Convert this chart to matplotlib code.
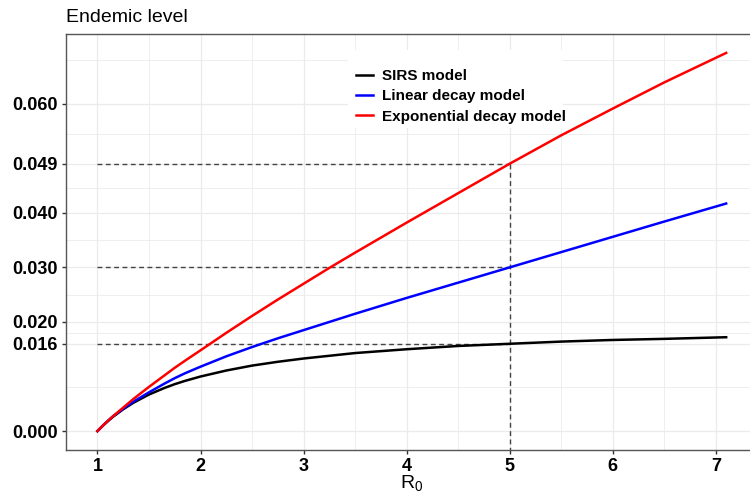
#!/usr/bin/env python3

import matplotlib
matplotlib.use("Agg")
import matplotlib.pyplot as plt
from matplotlib.patches import Rectangle

plt.rcParams['font.family'] = ['Liberation Sans', 'DejaVu Sans']
plt.rcParams['mathtext.fontset'] = 'custom'
plt.rcParams['mathtext.rm'] = 'Liberation Sans'

# values
r0 = [1, 1.05, 1.1, 1.15, 1.2, 1.25, 1.35, 1.5, 1.65, 1.75, 1.85, 2, 2.25,
      2.5, 2.75, 3, 3.25, 3.5, 4, 4.5, 5, 5.5, 6, 6.5, 7.1]
sirs = [0, 0.00095, 0.0018, 0.0026, 0.0033, 0.0040, 0.0052, 0.0067, 0.0079,
        0.0086, 0.0092, 0.0100, 0.0111, 0.0120, 0.0127, 0.0133, 0.0138,
        0.0143, 0.0150, 0.0156, 0.0160, 0.0164, 0.0167, 0.0169, 0.0172]
linear = [0, 0.00095, 0.00185, 0.0027, 0.0034, 0.0041, 0.0054, 0.0071, 0.0087,
          0.0097, 0.0106, 0.0118, 0.0137, 0.0154, 0.0170, 0.0185, 0.0200,
          0.0215, 0.0244, 0.0272, 0.0300, 0.0328, 0.0356, 0.0384, 0.0417]
expo = [0, 0.00095, 0.00185, 0.0027, 0.0035, 0.0043, 0.0059, 0.0081, 0.0102,
        0.0116, 0.0129, 0.0148, 0.0180, 0.0211, 0.0241, 0.0270, 0.0299,
        0.0327, 0.0382, 0.0436, 0.0490, 0.0542, 0.0591, 0.0639, 0.0693]

r0_mark = 5
levels = [0.016, 0.030, 0.049]

y_ticks = [0, 0.016, 0.02, 0.03, 0.04, 0.049, 0.06]
y_labels = ["0.000", "0.016", "0.020", "0.030", "0.040", "0.049", "0.060"]
y_minor = [0.008, 0.018, 0.025, 0.035, 0.0445, 0.0545, 0.068]
x_ticks = [1, 2, 3, 4, 5, 6, 7]
x_minor = [1.5, 2.5, 3.5, 4.5, 5.5, 6.5]


def make_plot():
    fig = plt.figure(figsize=(7.5, 5), dpi=100)
    W, H = 750., 500.
    left, right, top, bottom = 66, 757.6, 34, 450
    ax = fig.add_axes([left / W, 1 - bottom / H, (right - left) / W, (bottom - top) / H])

    xspan = max(r0) - min(r0)
    yspan = max(expo) - 0
    ax.set_xlim(min(r0) - 0.05 * xspan, max(r0) + 0.05 * xspan)
    ax.set_ylim(-0.05 * yspan, max(expo) + 0.05 * yspan)

    # dashed guides
    for lv in levels:
        ax.plot([min(r0), r0_mark], [lv, lv], color='#444444', lw=1.0,
                dashes=(3.5, 2.5), zorder=2)
    ax.plot([r0_mark, r0_mark], [max(levels), -1], color='#444444', lw=1.0,
            dashes=(3.5, 2.5), zorder=2)

    ax.plot(r0, sirs, color='black', lw=1.8, label='SIRS model', zorder=3)
    ax.plot(r0, linear, color='#0000FF', lw=1.8, label='Linear decay model', zorder=3)
    ax.plot(r0, expo, color='#FF0000', lw=1.8, label='Exponential decay model', zorder=3)

    ax.set_yticks(y_ticks)
    ax.set_yticklabels(y_labels)
    ax.set_yticks(y_minor, minor=True)
    ax.set_xticks(x_ticks)
    ax.set_xticks(x_minor, minor=True)
    ax.grid(True, which='major', color='#EBEBEB', lw=0.9, zorder=0)
    ax.grid(True, which='minor', color='#EBEBEB', lw=0.6, zorder=0)
    ax.set_axisbelow(True)

    ax.tick_params(which='major', length=3, width=1, color='#333333', pad=3,
                   labelsize=13, labelcolor='black')
    ax.tick_params(which='minor', length=0)
    for lab in ax.get_xticklabels() + ax.get_yticklabels():
        lab.set_fontweight('bold')
    for s in ax.spines.values():
        s.set_color('#555555')
        s.set_linewidth(1.0)

    fig.text(412 / W, 1 - 484 / H, r'$\mathrm{R}_\mathrm{0}$', fontsize=14,
             ha='center', va='center')
    fig.text(left / W, 1 - 17 / H, 'Endemic level', fontsize=14,
             ha='left', va='center')

    # white legend background (ggplot style box above the keys)
    ax.add_patch(Rectangle((348 / W, 1 - 128 / H), 215 / W, 78 / H,
                           transform=fig.transFigure, facecolor='white',
                           edgecolor='none', zorder=1))
    leg = ax.legend(loc='upper left', bbox_to_anchor=(351 / W, 1 - 64 / H),
                    bbox_transform=fig.transFigure, borderaxespad=0,
                    frameon=False,
                    prop={'weight': 'bold', 'size': 11},
                    handlelength=1.1, handletextpad=0.6, labelspacing=0.4,
                    borderpad=0.35)
    leg.set_zorder(5)

    fig.savefig('out.png', dpi=100)


def main():
    make_plot()


if __name__ == '__main__':
    main()
